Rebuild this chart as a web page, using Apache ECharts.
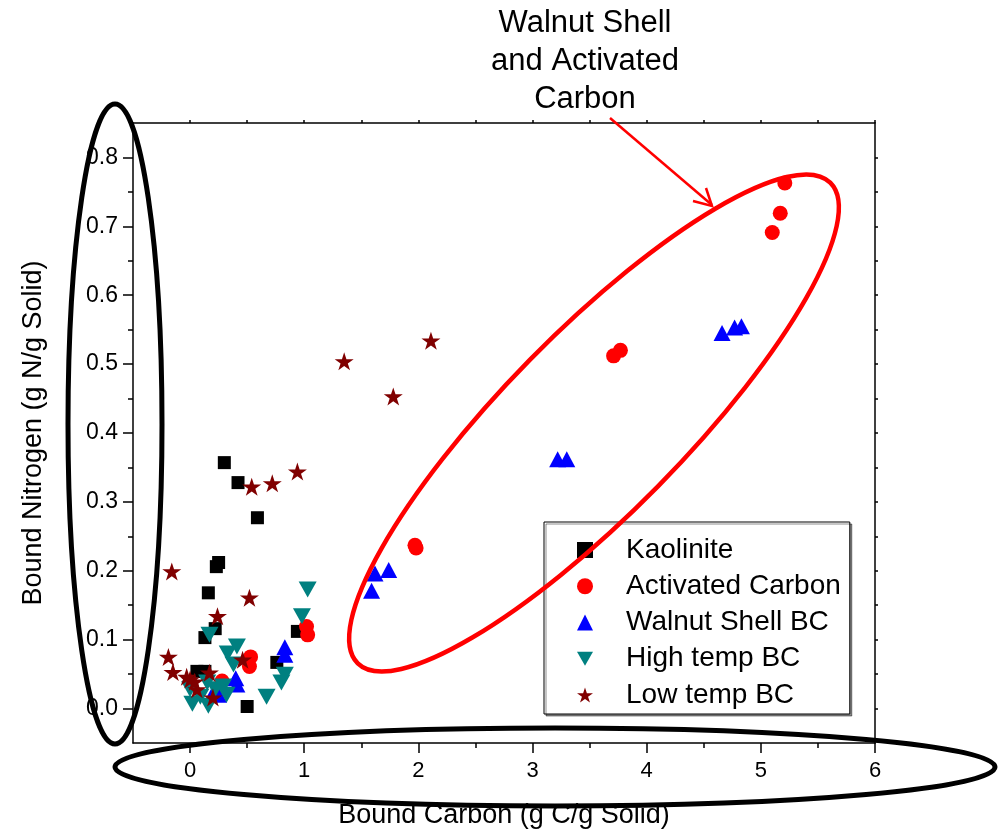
<!DOCTYPE html>
<html>
<head>
<meta charset="utf-8">
<script src="https://cdn.jsdelivr.net/npm/echarts@6/dist/echarts.min.js"></script>
<style>
  html, body { margin: 0; padding: 0; background: #fff; }
  #main { width: 1001px; height: 830px; }
</style>
</head>
<body>
<div id="main"></div>
<script>
// data: [bound carbon, bound nitrogen]
var kaolinite = [[0.30,0.357],[0.42,0.328],[0.59,0.277],[0.25,0.212],[0.23,0.206],[0.16,0.168],
  [0.22,0.116],[0.13,0.103],[0.06,0.054],[0.13,0.054],[0.50,0.003],[0.76,0.067],[0.94,0.112]];
var activatedCarbon = [[5.21,0.763],[5.17,0.719],[5.10,0.691],[3.77,0.520],[3.71,0.512],[1.97,0.237],
  [1.98,0.233],[1.02,0.119],[1.03,0.107],[0.53,0.075],[0.52,0.061],[0.28,0.040]];
var walnutShellBC = [[4.66,0.545],[4.77,0.553],[4.83,0.555],[3.22,0.362],[3.30,0.362],[1.62,0.196],
  [1.74,0.201],[1.59,0.171],[0.83,0.089],[0.83,0.078],[0.40,0.044],[0.41,0.035],[0.21,0.025],[0.25,0.020]];
var highTempBC = [[1.03,0.173],[0.98,0.134],[0.83,0.049],[0.80,0.038],[0.67,0.017],[0.17,0.107],
  [0.41,0.090],[0.33,0.080],[0.38,0.064],[0.00,0.028],[0.02,0.007],[0.09,0.017],[0.16,0.004],
  [0.22,0.028],[0.29,0.032],[0.32,0.020],[0.15,0.038]];
var lowTempBC = [[2.11,0.534],[1.35,0.504],[1.78,0.453],[0.94,0.344],[0.72,0.327],[0.54,0.322],
  [-0.16,0.199],[0.52,0.161],[0.24,0.134],[-0.19,0.075],[-0.15,0.053],[-0.03,0.046],[0.00,0.042],
  [0.04,0.039],[0.17,0.052],[0.06,0.028],[0.20,0.016],[0.46,0.071]];

var seriesNames = ['Kaolinite', 'Activated Carbon', 'Walnut Shell BC', 'High temp BC', 'Low temp BC'];
var xMajor = [0, 1, 2, 3, 4, 5, 6];
var xMinor = [0.5, 1.5, 2.5, 3.5, 4.5, 5.5];
var yMajor = [0, 0.1, 0.2, 0.3, 0.4, 0.5, 0.6, 0.7, 0.8];
var yMinor = [0.05, 0.15, 0.25, 0.35, 0.45, 0.55, 0.65, 0.75];

var font = 'Liberation Sans, Arial, sans-serif';
var starPath = 'path://M0,-1L0.2245,-0.309L0.951,-0.309L0.363,0.118L0.588,0.809L0,0.382L-0.588,0.809L-0.363,0.118L-0.951,-0.309L-0.2245,-0.309Z';
var downTri = 'path://M0,0L2,0L1,1.75Z';

var chart = echarts.init(document.getElementById('main'));

var black = { color: '#000', width: 1.5 };

function xAxisBase(pos) {
  return {
    type: 'value', position: pos, min: -0.5, max: 6,
    splitLine: { show: false },
    axisLine: { show: true, onZero: false, lineStyle: black }
  };
}
function yAxisBase(pos) {
  return {
    type: 'value', position: pos, min: -0.05, max: 0.85,
    splitLine: { show: false },
    axisLine: { show: true, onZero: false, lineStyle: black }
  };
}

var xMain = xAxisBase('bottom');
xMain.axisTick = { show: true, customValues: xMajor, length: 10, lineStyle: black };
xMain.axisLabel = { customValues: xMajor, fontSize: 22, margin: 17, color: '#000', fontFamily: font };
xMain.name = 'Bound Carbon (g C/g Solid)';
xMain.nameLocation = 'middle';
xMain.nameGap = 59;
xMain.nameTextStyle = { fontSize: 27, color: '#000', fontFamily: font };

var xMin = xAxisBase('bottom');
xMin.axisLine.show = false;
xMin.axisTick = { show: true, customValues: xMinor, length: 5, lineStyle: black };
xMin.axisLabel = { show: false };

var xTop = xAxisBase('top');
xTop.axisTick = { show: true, customValues: xMajor.concat(xMinor), length: 3, lineStyle: black };
xTop.axisLabel = { show: false };

var yMain = yAxisBase('left');
yMain.axisTick = { show: true, customValues: yMajor, length: 10, lineStyle: black };
yMain.axisLabel = {
  customValues: yMajor, fontSize: 23, margin: 15, color: '#000', fontFamily: font,
  formatter: function (v) { return v.toFixed(1); }
};
yMain.name = 'Bound Nitrogen (g N/g Solid)';
yMain.nameLocation = 'middle';
yMain.nameGap = 86;
yMain.nameTextStyle = { fontSize: 27, color: '#000', fontFamily: font };

var yMin = yAxisBase('left');
yMin.axisLine.show = false;
yMin.axisTick = { show: true, customValues: yMinor, length: 5, lineStyle: black };
yMin.axisLabel = { show: false };

var yRight = yAxisBase('right');
yRight.axisTick = { show: true, customValues: yMajor.concat(yMinor), length: 3, lineStyle: black };
yRight.axisLabel = { show: false };

function scatter(name, data, symbol, size, color) {
  return {
    name: name, type: 'scatter', data: data,
    symbol: symbol, symbolSize: size,
    itemStyle: { color: color, opacity: 1 },
    xAxisIndex: 0, yAxisIndex: 0
  };
}

var option = {
  animation: false,
  backgroundColor: '#fff',
  grid: { left: 133, right: 126, top: 123, bottom: 87, containLabel: false, outerBoundsMode: 'none' },
  xAxis: [xMain, xMin, xTop],
  yAxis: [yMain, yMin, yRight],
  legend: {
    data: seriesNames,
    orient: 'vertical',
    left: 544, top: 522,
    padding: [14, 9, 5, 33],
    itemWidth: 16, itemHeight: 16, itemGap: 8.25,
    borderColor: '#000', borderWidth: 1,
    backgroundColor: '#fff',
    shadowColor: 'rgba(0,0,0,0.45)', shadowBlur: 0, shadowOffsetX: 2, shadowOffsetY: 2,
    textStyle: { fontSize: 28, lineHeight: 28, color: '#000', fontFamily: font, padding: [0, 0, 0, 28] }
  },
  series: [
    scatter(seriesNames[0], kaolinite, 'rect', 13, '#000000'),
    scatter(seriesNames[1], activatedCarbon, 'circle', 15, '#ff0000'),
    scatter(seriesNames[2], walnutShellBC, 'triangle', [17, 16], '#0000ff'),
    scatter(seriesNames[3], highTempBC, downTri, [18, 16], '#008080'),
    scatter(seriesNames[4], lowTempBC, starPath, [19, 18], '#800000')
  ],
  graphic: [
    { type: 'ellipse', x: 594, y: 423, rotation: 0.794, z: 100,
      shape: { cx: 0, cy: 0, rx: 337, ry: 90 },
      style: { fill: 'none', stroke: '#ff0000', lineWidth: 4.5 } },
    { type: 'ellipse', x: 115, y: 424, z: 100,
      shape: { cx: 0, cy: 0, rx: 47, ry: 320 },
      style: { fill: 'none', stroke: '#000', lineWidth: 5 } },
    { type: 'ellipse', x: 555, y: 767, z: 100,
      shape: { cx: 0, cy: 0, rx: 440, ry: 39 },
      style: { fill: 'none', stroke: '#000', lineWidth: 5 } },
    { type: 'line', z: 100,
      shape: { x1: 610, y1: 118, x2: 712, y2: 205 },
      style: { stroke: '#ff0000', lineWidth: 2.5 } },
    { type: 'polyline', z: 100,
      shape: { points: [[693, 201], [712, 206], [706, 188]] },
      style: { fill: 'none', stroke: '#ff0000', lineWidth: 2.5 } },
    { type: 'text', x: 585, y: 61, z: 100,
      style: { text: 'Walnut Shell\nand Activated\nCarbon', align: 'center', verticalAlign: 'middle',
        fontSize: 31, lineHeight: 38, fill: '#000', fontFamily: font } }
  ]
};

chart.setOption(option);
</script>
</body>
</html>
